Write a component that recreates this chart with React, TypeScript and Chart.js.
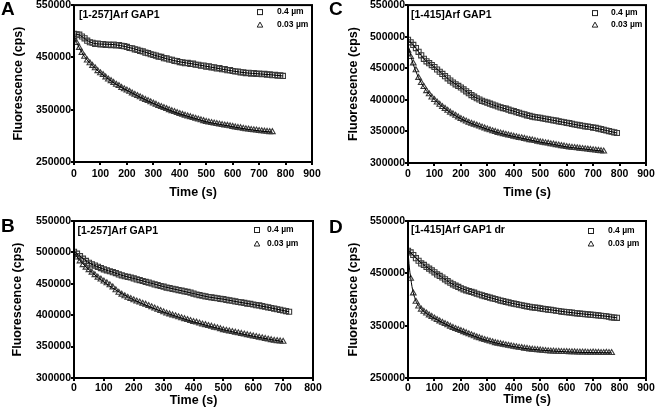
import React, { useEffect, useRef } from "react";
import { Chart, registerables } from "chart.js";
Chart.register(...registerables);

const FONT = "'Liberation Sans', Arial, Helvetica, sans-serif";
const STEP_S = 10; // sampling interval of the recordings (s)

const LABEL_HI = "0.4 µm";
const LABEL_LO = "0.03 µm";

// ---------- Panel A : [1-257]Arf GAP1 ----------
const A_SQ = [
  495000, 494000, 493500, 490000, 486500, 482000, 479000, 478000, 476000, 476500,
  475000, 475500, 474000, 474500, 473500, 474500, 473000, 473500, 472000, 471500,
  470000, 468000, 467500, 465500, 464500, 462500, 461500, 459000, 458000, 456000,
  455000, 453500, 451500, 451000, 448500, 448000, 446000, 445500, 443500, 443000,
  441000, 440500, 439000, 439500, 437500, 438000, 436000, 436000, 434000, 434500,
  432500, 433000, 431000, 431000, 429000, 429500, 427500, 427500, 425500, 425500,
  424000, 423000, 423000, 421500, 421500, 420000, 420500, 419000, 420000, 418500,
  419000, 418000, 418500, 417000, 417500, 416000, 416500, 415000, 415500, 414500,
];
const A_TR = [
  489000, 478000, 468500, 459000, 451500, 444500, 439000, 434000, 429500, 424000,
  420000, 416500, 412000, 408000, 405000, 401500, 398000, 395500, 392000, 389500,
  387000, 384500, 381500, 379000, 376500, 374000, 371500, 369000, 367000, 364500,
  362000, 360000, 357500, 355500, 353500, 351500, 349500, 347500, 346000, 344000,
  342000, 340500, 339000, 337500, 336000, 334500, 333000, 331500, 330000, 328500,
  327000, 326000, 325000, 324000, 323000, 322000, 321000, 320000, 319500, 318500,
  317500, 316500, 315500, 315000, 314000, 313000, 312500, 311500, 311000, 310500,
  309500, 309000, 308500, 308000, 307500, 307500,
];
const A_SQ_FIT_T = [0, 20, 40, 60, 80, 100, 150, 200, 250, 300, 350, 400, 450, 500, 550, 600, 650, 700, 750, 790];
const A_SQ_FIT = [495000, 493000, 486000, 479500, 476500, 475500, 474500, 470000, 463000, 455000, 447500, 441500, 437500, 433000, 428500, 424000, 420500, 418500, 416500, 414500];
const A_TR_FIT_T = [0, 10, 20, 30, 40, 60, 80, 100, 130, 160, 200, 250, 300, 350, 400, 450, 500, 550, 600, 650, 700, 750];
const A_TR_FIT = [490000, 478500, 468500, 459500, 451500, 439000, 429000, 420000, 408500, 398500, 387000, 374000, 362000, 351500, 342000, 334500, 327000, 322000, 317500, 313000, 309500, 307000];

// ---------- Panel B : [1-257]Arf GAP1 ----------
const B_SQ = [
  501000, 498000, 494000, 490000, 486500, 483500, 481000, 479000, 477000, 475000,
  473000, 471500, 470000, 468500, 467000, 465000, 463500, 462000, 461000, 460000,
  458500, 457000, 456000, 454500, 453000, 452000, 450500, 449000, 448000, 446500,
  445500, 444000, 443000, 442000, 441000, 440000, 439000, 438000, 437000, 436000,
  434500, 433000, 432000, 431000, 430000, 429000, 428500, 427500, 427000, 426000,
  425500, 424500, 423500, 423000, 422000, 421000, 420500, 419500, 418500, 418000,
  417000, 416000, 415500, 414500, 413500, 412500, 411500, 410500, 409500, 408500,
  407500, 406500, 405500,
];
const B_TR = [
  499000, 492000, 486000, 480000, 476000, 472000, 468000, 464000, 460000, 457000,
  454000, 451000, 448000, 444500, 440000, 436000, 433000, 430500, 428000, 426000,
  424000, 422000, 420500, 418500, 417000, 415000, 413000, 411000, 409000, 407000,
  405000, 403000, 401500, 400000, 398500, 397000, 395500, 394000, 392500, 391000,
  389500, 388500, 387000, 385500, 384500, 383000, 382000, 380500, 379500, 378000,
  376500, 375500, 374500, 373500, 372500, 371500, 370500, 369500, 368500, 367500,
  366500, 365500, 364500, 363500, 362500, 361500, 360500, 359500, 359000, 358500,
  358000,
];
const B_SQ_FIT_T = [0, 20, 40, 60, 80, 100, 130, 160, 200, 250, 300, 350, 400, 450, 500, 550, 600, 650, 700, 720];
const B_SQ_FIT = [501000, 494000, 486500, 481000, 477000, 473000, 468500, 463500, 458500, 452000, 445500, 440000, 434500, 429000, 425500, 421000, 417000, 412500, 407500, 405500];
const B_TR_FIT_T = [0, 20, 40, 60, 80, 100, 130, 160, 200, 250, 300, 350, 400, 450, 500, 550, 600, 650, 700];
const B_TR_FIT = [499000, 487000, 477000, 468000, 460000, 453000, 443000, 434500, 424500, 414000, 405000, 397000, 389500, 383000, 377000, 371500, 366500, 362000, 358000];

// ---------- Panel C : [1-415]Arf GAP1 ----------
const C_SQ = [
  495000, 491000, 487000, 482000, 476000, 470500, 465000, 461000, 458000, 455000,
  452000, 448000, 444500, 441000, 437500, 434000, 430500, 427500, 424500, 422000,
  419500, 416500, 413500, 410500, 407500, 405000, 402500, 400500, 398500, 397000,
  395500, 394000, 392500, 391000, 389500, 388000, 387000, 386000, 384500, 383000,
  382000, 380500, 379500, 378000, 377000, 375500, 374500, 373500, 372500, 372000,
  371500, 370500, 370000, 369000, 368500, 367500, 367000, 366000, 365000, 364500,
  363500, 363000, 362000, 361000, 360500, 359500, 359000, 358000, 357500, 357000,
  356000, 355500, 354500, 353500, 352500, 351500, 350500, 349500, 348500, 347500,
];
const C_TR = [
  478000, 468000, 458000, 447000, 435000, 427000, 420500, 414000, 409000, 404000,
  400000, 396000, 392500, 389000, 386000, 383000, 380000, 377500, 375000, 372500,
  370000, 368000, 366000, 364000, 362500, 361000, 359500, 358000, 356500, 355000,
  353500, 352000, 350500, 349500, 348000, 347000, 346000, 345000, 344000, 343000,
  342000, 341000, 340000, 339500, 338500, 337500, 336500, 336000, 335000, 334000,
  333000, 332500, 331500, 331000, 330000, 329500, 328500, 328000, 327000, 326500,
  325500, 325000, 324500, 324000, 323500, 323000, 322500, 322000, 321500, 321000,
  320500, 320000, 319500, 319000, 318500,
];
const C_SQ_FIT_T = [0, 20, 40, 60, 80, 100, 130, 160, 200, 250, 300, 350, 400, 450, 500, 550, 600, 650, 700, 750, 790];
const C_SQ_FIT = [495000, 487000, 476000, 465000, 458000, 452000, 441000, 430500, 419500, 405000, 395500, 388000, 382000, 375500, 371500, 367500, 363500, 359500, 356000, 351500, 347500];
const C_TR_FIT_T = [0, 10, 20, 30, 40, 60, 80, 100, 130, 160, 200, 250, 300, 350, 400, 450, 500, 550, 600, 650, 700, 740];
const C_TR_FIT = [487000, 470000, 456000, 445000, 435000, 420500, 409000, 400000, 389000, 380000, 370000, 361000, 353500, 347000, 342000, 337500, 333000, 329500, 325500, 323000, 320500, 318500];

// ---------- Panel D : [1-415]Arf GAP1 dr ----------
const D_SQ = [
  493000, 490000, 485000, 479000, 474000, 469000, 466000, 462500, 459000, 455500,
  452000, 448000, 445000, 442000, 438500, 435000, 432000, 429000, 426500, 424000,
  421500, 419500, 417500, 416000, 414500, 413000, 411000, 409500, 408000, 406500,
  405000, 403500, 402000, 401000, 399500, 398000, 397000, 395500, 394500, 393000,
  392000, 391000, 390000, 389000, 388000, 387000, 386000, 385000, 384500, 384000,
  383000, 382000, 381500, 380500, 380000, 379500, 378500, 378000, 377000, 376500,
  376000, 375500, 375000, 374000, 373500, 373000, 372500, 372000, 371500, 371000,
  370500, 370000, 369500, 369000, 368500, 368000, 367000, 366000, 365500, 365000,
];
const D_TR = [
  490000, 440000, 412000, 396000, 387000, 381000, 377000, 373500, 370000, 367000,
  364000, 361000, 358500, 356000, 353500, 351000, 348500, 346000, 344000, 342000,
  340000, 338000, 336000, 334000, 332000, 330000, 328000, 326500, 324500, 323000,
  321500, 320000, 318500, 317000, 316000, 315000, 314000, 313000, 312000, 311000,
  310000, 309000, 308000, 307500, 306500, 306000, 305000, 304500, 304000, 303500,
  303000, 302500, 302000, 301500, 301000, 301000, 300500, 300500, 300000, 300000,
  300000, 299500, 299500, 299500, 299000, 299000, 299000, 299000, 298500, 298500,
  299000, 298500, 298500, 298000, 298000, 298500, 298000, 298000,
];
const D_SQ_FIT_T = [0, 20, 40, 60, 80, 100, 130, 160, 200, 250, 300, 350, 400, 450, 500, 550, 600, 650, 700, 750, 790];
const D_SQ_FIT = [493000, 485000, 474000, 466000, 459000, 452000, 442000, 432000, 421500, 413000, 405000, 398000, 392000, 387000, 383000, 379500, 376000, 373000, 370500, 368000, 365000];
const D_TR_FIT_T = [0, 5, 10, 15, 20, 30, 40, 60, 80, 100, 130, 160, 200, 250, 300, 350, 400, 450, 500, 550, 600, 650, 700, 770];
const D_TR_FIT = [492000, 462000, 442000, 425000, 413000, 397000, 388000, 377000, 370000, 364000, 356000, 348500, 340000, 330000, 321500, 315000, 310000, 306000, 303500, 301500, 300000, 299000, 298500, 298000];

type Panel = {
  letter: string;
  title: string;
  left: number; top: number; width: number; height: number;
  padTop: number; padRight: number;
  yAxisW: number; xAxisH: number;
  xMax: number; yMin: number; yMax: number; yStep: number;
  sq: number[]; tr: number[];
  sqFitT: number[]; sqFit: number[]; trFitT: number[]; trFit: number[];
  xTickPad: number; xTitlePadBottom: number; yTitlePadTop: number;
  titleDx: number; titleDy: number;
  legMarkerDx: number; legTextDx: number; legRow1: number; legRow2: number;
  letterTop: number;
};

const PANELS: Panel[] = [
  {
    letter: "A", title: "[1-257]Arf GAP1",
    left: 0, top: 0, width: 328, height: 205, padTop: 5, padRight: 16, yAxisW: 74, xAxisH: 43,
    xMax: 900, yMin: 250000, yMax: 550000, yStep: 100000,
    sq: A_SQ, tr: A_TR, sqFitT: A_SQ_FIT_T, sqFit: A_SQ_FIT, trFitT: A_TR_FIT_T, trFit: A_TR_FIT,
    xTickPad: 3, xTitlePadBottom: 5, yTitlePadTop: 10.8,
    titleDx: 5, titleDy: 10, legMarkerDx: -52, legTextDx: -35, legRow1: 7, legRow2: 20, letterTop: -1,
  },
  {
    letter: "B", title: "[1-257]Arf GAP1",
    left: 0, top: 205, width: 328, height: 211, padTop: 16, padRight: 15, yAxisW: 74, xAxisH: 38,
    xMax: 800, yMin: 300000, yMax: 550000, yStep: 50000,
    sq: B_SQ, tr: B_TR, sqFitT: B_SQ_FIT_T, sqFit: B_SQ_FIT, trFitT: B_TR_FIT_T, trFit: B_TR_FIT,
    xTickPad: 1, xTitlePadBottom: 8, yTitlePadTop: 10.5,
    titleDx: 3.5, titleDy: 10, legMarkerDx: -56, legTextDx: -46, legRow1: 9, legRow2: 23, letterTop: 11,
  },
  {
    letter: "C", title: "[1-415]Arf GAP1",
    left: 328, top: 0, width: 328, height: 205, padTop: 5, padRight: 10, yAxisW: 80, xAxisH: 42,
    xMax: 900, yMin: 300000, yMax: 550000, yStep: 50000,
    sq: C_SQ, tr: C_TR, sqFitT: C_SQ_FIT_T, sqFit: C_SQ_FIT, trFitT: C_TR_FIT_T, trFit: C_TR_FIT,
    xTickPad: 2, xTitlePadBottom: 5, yTitlePadTop: 18.2,
    titleDx: 3, titleDy: 10, legMarkerDx: -51, legTextDx: -35, legRow1: 8, legRow2: 20, letterTop: -1,
  },
  {
    letter: "D", title: "[1-415]Arf GAP1 dr",
    left: 328, top: 205, width: 328, height: 211, padTop: 16, padRight: 10, yAxisW: 80, xAxisH: 38,
    xMax: 900, yMin: 250000, yMax: 550000, yStep: 100000,
    sq: D_SQ, tr: D_TR, sqFitT: D_SQ_FIT_T, sqFit: D_SQ_FIT, trFitT: D_TR_FIT_T, trFit: D_TR_FIT,
    xTickPad: 1, xTitlePadBottom: 9, yTitlePadTop: 18.2,
    titleDx: 3, titleDy: 9, legMarkerDx: -55, legTextDx: -38, legRow1: 10, legRow2: 23, letterTop: 12,
  },
];

const MARKER_COLOR = "#3a3a3a";

function drawSquare(ctx: CanvasRenderingContext2D, x: number, y: number) {
  ctx.strokeRect(x - 2.5, y - 2.5, 5, 5);
}
function drawTriangle(ctx: CanvasRenderingContext2D, x: number, y: number) {
  ctx.beginPath();
  ctx.moveTo(x, y - 3);
  ctx.lineTo(x - 2.8, y + 2);
  ctx.lineTo(x + 2.8, y + 2);
  ctx.closePath();
  ctx.stroke();
}

function PanelChart({ p }: { p: Panel }) {
  const ref = useRef<HTMLCanvasElement>(null);
  useEffect(() => {
    if (!ref.current) return;
    const toXY = (vals: number[]) => vals.map((y, i) => ({ x: i * STEP_S, y }));
    const zip = (ts: number[], vs: number[]) => ts.map((x, i) => ({ x, y: vs[i] }));

    const decor = {
      id: "decor",
      afterDraw(chart: any) {
        const { ctx, chartArea: a } = chart;
        ctx.save();
        ctx.strokeStyle = "#000";
        ctx.lineWidth = 2;
        ctx.strokeRect(a.left, a.top, a.right - a.left, a.bottom - a.top);
        ctx.fillStyle = "#000";
        ctx.textAlign = "left";
        ctx.textBaseline = "middle";
        ctx.font = `bold 10.5px ${FONT}`;
        ctx.fillText(p.title, a.left + p.titleDx, a.top + p.titleDy);
        ctx.font = `bold 8.5px ${FONT}`;
        ctx.strokeStyle = "#222";
        ctx.lineWidth = 1;
        const mx = a.right + p.legMarkerDx;
        const tx = a.right + p.legTextDx;
        drawSquare(ctx, mx, a.top + p.legRow1);
        ctx.fillText(LABEL_HI, tx, a.top + p.legRow1);
        drawTriangle(ctx, mx, a.top + p.legRow2);
        ctx.fillText(LABEL_LO, tx, a.top + p.legRow2);
        ctx.restore();
      },
    };

    const tickFont = { family: FONT, size: 10.5, weight: "bold" as const };
    const titleFont = { family: FONT, size: 12.5, weight: "bold" as const };

    const chart = new Chart(ref.current, {
      type: "scatter",
      data: {
        datasets: [
          {
            label: "fit 0.4",
            data: zip(p.sqFitT, p.sqFit),
            showLine: true,
            pointRadius: 0,
            borderColor: "#000",
            borderWidth: 1,
            cubicInterpolationMode: "monotone",
          } as any,
          {
            label: "fit 0.03",
            data: zip(p.trFitT, p.trFit),
            showLine: true,
            pointRadius: 0,
            borderColor: "#000",
            borderWidth: 1,
            cubicInterpolationMode: "monotone",
          } as any,
          {
            label: LABEL_HI,
            data: toXY(p.sq),
            pointStyle: "rect",
            pointRadius: 3.6,
            borderWidth: 1.1,
            borderColor: MARKER_COLOR,
            backgroundColor: "rgba(255,255,255,0)",
          },
          {
            label: LABEL_LO,
            data: toXY(p.tr),
            pointStyle: "triangle",
            pointRadius: 3.3,
            borderWidth: 1.1,
            borderColor: MARKER_COLOR,
            backgroundColor: "rgba(255,255,255,0)",
          },
        ],
      },
      options: {
        responsive: false,
        animation: false,
        events: [],
        layout: { padding: { top: p.padTop, right: p.padRight, left: 0, bottom: 0 } },
        plugins: { legend: { display: false }, tooltip: { enabled: false } },
        scales: {
          x: {
            type: "linear",
            min: 0,
            max: p.xMax,
            afterFit: (s: any) => {
              s.height = p.xAxisH;
              s.paddingLeft = 0;
              s.paddingRight = 0;
            },
            border: { display: false },
            grid: { display: true, drawOnChartArea: false, drawTicks: true, tickLength: 3, color: "#000", lineWidth: 2 },
            ticks: { stepSize: 100, color: "#000", font: tickFont, padding: p.xTickPad, maxRotation: 0, autoSkip: false },
            title: { display: true, text: "Time (s)", color: "#000", font: titleFont, padding: { top: 0, bottom: p.xTitlePadBottom } },
          },
          y: {
            type: "linear",
            min: p.yMin,
            max: p.yMax,
            afterFit: (s: any) => {
              s.width = p.yAxisW;
              s.paddingTop = 0;
              s.paddingBottom = 0;
            },
            border: { display: false },
            grid: { display: true, drawOnChartArea: false, drawTicks: true, tickLength: 3, color: "#000", lineWidth: 2 },
            ticks: { stepSize: p.yStep, color: "#000", font: tickFont, padding: 0, autoSkip: false, callback: (v: any) => String(v) },
            title: { display: true, text: "Fluorescence (cps)", color: "#000", font: titleFont, padding: { top: p.yTitlePadTop, bottom: 0 } },
          },
        },
      },
      plugins: [decor],
    });
    return () => chart.destroy();
  }, [p]);

  return (
    <canvas
      ref={ref}
      width={p.width}
      height={p.height}
      style={{ position: "absolute", left: p.left, top: p.top, width: p.width, height: p.height }}
    />
  );
}

export default function App() {
  return (
    <div style={{ position: "absolute", left: 0, top: 0, width: 656, height: 416, background: "#fff", overflow: "hidden" }}>
      {PANELS.map((p) => (
        <PanelChart key={p.letter} p={p} />
      ))}
      {PANELS.map((p) => (
        <span
          key={"L" + p.letter}
          style={{
            position: "absolute",
            left: p.left + 1,
            top: p.letterTop + p.top,
            font: `bold 19px ${FONT}`,
            lineHeight: "19px",
            color: "#000",
          }}
        >
          {p.letter}
        </span>
      ))}
    </div>
  );
}
